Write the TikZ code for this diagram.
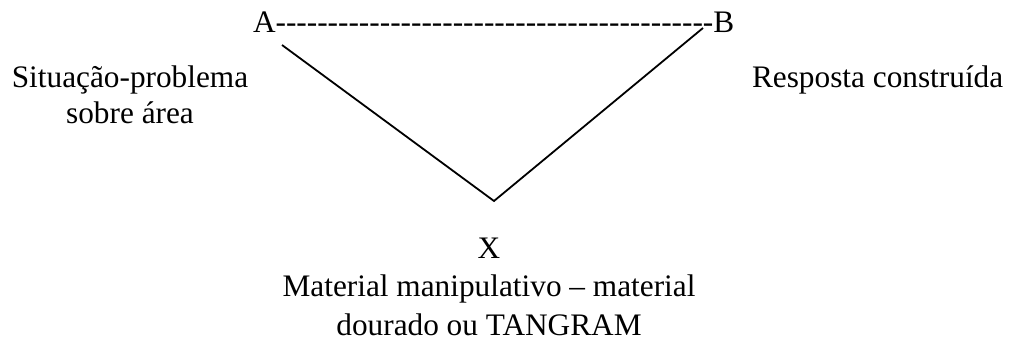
\documentclass[tikz,border=0pt]{standalone}
\usepackage{fontspec}
\setmainfont{Liberation Serif}
\newcommand\hyphenrun[1]{\foreach \i in {1,...,#1}{\mbox{-}}}
\begin{document}
\begin{tikzpicture}[x=1pt,y=-1pt,
  txt/.style={inner sep=0pt, outer sep=0pt, font=\fontsize{31.3}{36}\selectfont},
  wide/.style={txt, font=\fontsize{31.3}{38.5}\selectfont},
  leg/.style={line width=1.8pt, line join=miter}]
\useasboundingbox (0,0) rectangle (1011,345);
\node[txt,anchor=base west] (A) at (253,33) {A};
\node[txt,anchor=base west] (dashes) at (A.base east) {\hyphenrun{42}};
\node[txt,anchor=base west] (B) at (dashes.base east) {B};
\node[txt,align=center,anchor=base] (sit) at (130,123) {Situação-problema\\sobre área};
\node[txt,anchor=base west] (resp) at (752,87) {Resposta construída};
\node[txt,anchor=base] (X) at (489,258) {X};
\node[wide,align=center,anchor=base] (mat) at (489,335) {Material manipulativo – material\\dourado ou TANGRAM};
\coordinate (pa) at (282,45);
\coordinate (px) at (494,201);
\coordinate (pb) at (703,28);
\draw[leg] (pa) -- (px) -- (pb);
\end{tikzpicture}
\end{document}
